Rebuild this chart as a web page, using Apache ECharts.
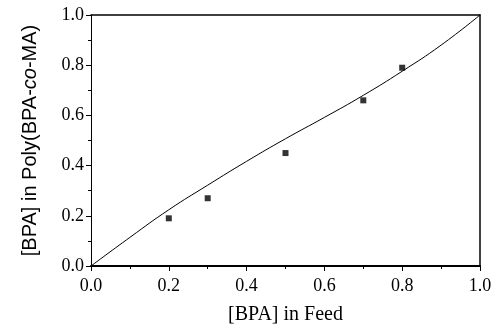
<!DOCTYPE html>
<html>
<head>
<meta charset="utf-8">
<script src="https://cdn.jsdelivr.net/npm/echarts@6/dist/echarts.min.js"></script>
<style>
html, body { margin: 0; padding: 0; background: #fff; }
#main { width: 500px; height: 326px; }
</style>
</head>
<body>
<div id="main"></div>
<script>
// measured points
let feedX = [0.2, 0.3, 0.5, 0.7, 0.8];
let polyY = [0.19, 0.27, 0.45, 0.66, 0.79];

// fitted curve
let curveX = [0, 0.1, 0.2, 0.3, 0.4, 0.5, 0.6, 0.7, 0.8, 0.9, 1.0];
let curveY = [0, 0.114, 0.224, 0.322, 0.417, 0.507, 0.592, 0.68, 0.776, 0.88, 1.0];

let tickLabels = ['0.0', '0.2', '0.4', '0.6', '0.8', '1.0'];

function pairs(xs, ys) {
    let out = [];
    for (let i = 0; i < xs.length; i++) {
        out.push([xs[i], ys[i]]);
    }
    return out;
}

function fmt(v) {
    let s = v.toFixed(1);
    return tickLabels.indexOf(s) >= 0 ? s : '';
}

let myChart = echarts.init(document.getElementById('main'));

let serif = 'Liberation Serif';
let sans = 'Liberation Sans';

let option = {
    backgroundColor: '#fff',
    animation: false,
    grid: {left: 91, right: 20, top: 15, bottom: 60, containLabel: false, outerBoundsMode: 'none'},
    xAxis: [
        {
            type: 'value',
            min: 0, max: 1, interval: 0.2,
            name: '[BPA] in Feed',
            nameLocation: 'middle',
            nameGap: 39,
            nameTextStyle: {fontFamily: serif, fontSize: 20, color: '#000'},
            axisLine: {show: true, onZero: false, lineStyle: {color: '#000', width: 2}},
            axisTick: {show: true, inside: false, length: 5, lineStyle: {color: '#000', width: 1}},
            minorTick: {show: true, splitNumber: 2, length: 3, lineStyle: {color: '#000', width: 1}},
            axisLabel: {fontFamily: serif, fontSize: 18, color: '#000', margin: 11, formatter: fmt},
            splitLine: {show: false}
        },
        {
            type: 'value',
            position: 'top',
            min: 0, max: 1,
            axisLine: {show: true, onZero: false, lineStyle: {color: '#000', width: 1.5}},
            axisTick: {show: false},
            axisLabel: {show: false},
            splitLine: {show: false}
        }
    ],
    yAxis: [
        {
            type: 'value',
            min: 0, max: 1, interval: 0.2,
            name: '[BPA] in Poly(BPA-{i|co}-MA)',
            nameLocation: 'middle',
            nameGap: 51,
            nameTextStyle: {
                fontFamily: sans, fontSize: 20, color: '#000',
                rich: {i: {fontFamily: sans, fontSize: 20, fontStyle: 'italic', color: '#000'}}
            },
            axisLine: {show: true, onZero: false, lineStyle: {color: '#000', width: 1}},
            axisTick: {show: true, inside: false, length: 5, lineStyle: {color: '#000', width: 1}},
            minorTick: {show: true, splitNumber: 2, length: 3, lineStyle: {color: '#000', width: 1}},
            axisLabel: {fontFamily: serif, fontSize: 18, color: '#000', margin: 7, formatter: fmt},
            splitLine: {show: false}
        },
        {
            type: 'value',
            position: 'right',
            min: 0, max: 1,
            axisLine: {show: true, onZero: false, lineStyle: {color: '#000', width: 1.5}},
            axisTick: {show: false},
            axisLabel: {show: false},
            splitLine: {show: false}
        }
    ],
    series: [
        {
            name: 'fit',
            type: 'line',
            data: pairs(curveX, curveY),
            smooth: true,
            showSymbol: false,
            symbol: 'none',
            lineStyle: {color: '#000', width: 1}
        },
        {
            name: 'data',
            type: 'scatter',
            data: pairs(feedX, polyY),
            symbol: 'rect',
            symbolSize: 6,
            itemStyle: {color: '#000'}
        }
    ]
};
myChart.setOption(option);
</script>
</body>
</html>
